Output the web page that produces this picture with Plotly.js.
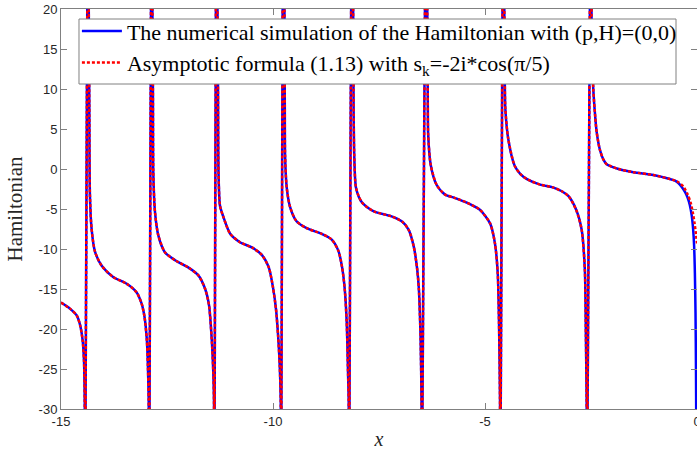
<!DOCTYPE html>
<html>
<head>
<meta charset="utf-8">
<script src="https://cdn.plot.ly/plotly-3.0.1.min.js"></script>
<style>html,body{margin:0;padding:0;background:#fff;}#chart{width:697px;height:450px;}</style>
</head>
<body>
<div id="chart"></div>
<script>
// Shared part of both curves, branch by branch between poles
const xCommon = [
  -15.0, -14.79, -14.63, -14.55, -14.49, -14.458, -14.441, -14.432,
  -14.36, -14.345, -14.332, -14.318, -14.28, -14.20, -14.04, -13.77, -13.45, -13.22, -13.10, -13.03, -12.975, -12.95, -12.932, -12.922,
  -12.86, -12.845, -12.832, -12.823, -12.783, -12.705, -12.55, -12.31, -12.0, -11.76, -11.60, -11.51, -11.446, -11.408, -11.392, -11.385,
  -11.33, -11.31, -11.297, -11.285, -11.25, -11.17, -11.01, -10.78, -10.50, -10.27, -10.10, -10.00, -9.93, -9.88, -9.84, -9.818, -9.81,
  -9.755, -9.73, -9.722, -9.715, -9.677, -9.60, -9.45, -9.205, -8.85, -8.62, -8.46, -8.37, -8.31, -8.262, -8.231, -8.215, -8.207,
  -8.135, -8.11, -8.098, -8.083, -8.04, -7.90, -7.62, -7.22, -6.95, -6.80, -6.68, -6.60, -6.56, -6.52, -6.497, -6.49,
  -6.385, -6.362, -6.35, -6.34, -6.28, -6.14, -5.94, -5.72, -5.43, -5.12, -4.88, -4.765, -4.70, -4.67, -4.646, -4.64,
  -4.565, -4.545, -4.535, -4.52, -4.45, -4.30, -4.17, -4.00, -3.70, -3.40, -3.20, -3.03, -2.85, -2.72, -2.645, -2.62, -2.603, -2.595,
  -2.50, -2.488, -2.484, -2.446, -2.40, -2.366, -2.29, -2.21, -2.13, -1.85, -1.50, -1.03, -0.64, -0.52
];
const hCommon = [
  -16.7, -17.45, -18.3, -19.5, -21.4, -23.9, -28.9, -40,
  40, 20, 8, -3.2, -7.4, -10.3, -12.1, -13.5, -14.35, -15.4, -16.8, -18.5, -21.4, -24.7, -28.9, -40,
  40, 20, 9.8, -0.4, -5.4, -8.3, -10.4, -11.4, -12.3, -13.3, -15.0, -17.0, -21.2, -25.4, -28.9, -40,
  40, 20, 9.8, -0.4, -4.6, -6.0, -8.1, -9.15, -9.8, -10.7, -12.3, -14.8, -17.5, -20.8, -24.7, -28.9, -40,
  40, 20, 8, 1.7, -2.3, -4.7, -6.5, -7.4, -8.1, -8.8, -10.2, -12.3, -14.9, -19.1, -25.4, -28.9, -40,
  40, 20, 7, 1.6, -2.4, -4.2, -5.3, -5.9, -6.6, -7.6, -9.7, -12.5, -15.0, -21.0, -28.9, -40,
  40, 20, 9, 4.3, 0.5, -2.0, -3.2, -3.6, -4.2, -5.1, -6.8, -9.3, -13.0, -19.1, -28.9, -40,
  40, 20, 12, 7.5, 3.7, 0.4, -0.6, -1.3, -1.95, -2.3, -2.75, -3.4, -5.1, -7.6, -12.6, -21.0, -28.9, -40,
  40, 20, 16.2, 10, 6.5, 4.6, 2.4, 1.2, 0.6, 0, -0.4, -0.75, -1.25, -1.45
];
// Tail of the numerical simulation (blue)
const xSimTail = [-0.44, -0.36, -0.28, -0.22, -0.17, -0.125, -0.09, -0.068, -0.05, -0.035, -0.024, -0.018, -0.012];
const hSimTail = [-1.75, -2.25, -2.9, -3.6, -4.5, -5.8, -7.6, -9.6, -13.0, -18, -25, -32, -40];
// Tail of the asymptotic formula (red dotted)
const xAsyTail = [-0.44, -0.32, -0.22, -0.15, -0.10, -0.06, -0.025, 0];
const hAsyTail = [-1.65, -2.2, -3.2, -4.2, -5.4, -6.7, -8.1, -9.3];

const xTicks = [-15, -10, -5, 0];
const xTickText = ['-15', '-10', '-5', '0'];
const yTicks = [-30, -25, -20, -15, -10, -5, 0, 5, 10, 15, 20];
const yTickText = ['-30', '-25', '-20', '-15', '-10', '-5', '0', '5', '10', '15', '20'];

const simName = 'The numerical simulation of the Hamiltonian with (p,H)=(0,0)';
const asyName = 'Asymptotic formula (1.13) with s<sub>k</sub>=-2i*cos(π/5)';

const traces = [
  {x: xCommon.concat(xSimTail), y: hCommon.concat(hSimTail), mode: 'lines', name: simName,
   line: {color: '#0000ff', width: 2.5, shape: 'spline', smoothing: 0.7}},
  {x: xCommon.concat(xAsyTail), y: hCommon.concat(hAsyTail), mode: 'lines', name: asyName,
   line: {color: '#ff0000', width: 2.5, dash: '3px,2px', shape: 'spline', smoothing: 0.7}}
];

const axisCommon = {
  showline: true, linecolor: '#808080', linewidth: 1, mirror: 'ticks',
  ticks: 'inside', ticklen: 6, tickcolor: '#808080', tickwidth: 1,
  showgrid: false, zeroline: false, ticklabeloverflow: 'allow',
  tickfont: {family: 'Liberation Sans, Arial, sans-serif', size: 13, color: '#262626'}
};

const serif = 'Liberation Serif, Times New Roman, serif';

const layout = {
  width: 697, height: 450,
  margin: {l: 61, r: 0, t: 9, b: 41},
  paper_bgcolor: '#fff', plot_bgcolor: '#fff',
  showlegend: true,
  xaxis: Object.assign({}, axisCommon, {
    range: [-15, 0], tickmode: 'array', tickvals: xTicks, ticktext: xTickText,
    title: {text: '<i>x</i>', font: {family: serif, size: 20, color: '#262626'}, standoff: 4}
  }),
  yaxis: Object.assign({}, axisCommon, {
    range: [-30, 20], tickmode: 'array', tickvals: yTicks, ticktext: yTickText,
    title: {text: 'Hamiltonian', font: {family: serif, size: 21, color: '#262626'}, standoff: 10}
  }),
  shapes: [{
    type: 'rect', xref: 'paper', yref: 'paper', layer: 'above',
    x0: 0.0283, x1: 0.967, y0: 0.8125, y1: 0.975,
    fillcolor: '#ffffff', line: {color: '#808080', width: 1}
  }],
  legend: {
    x: 0.025, y: 0.997, xanchor: 'left', yanchor: 'top',
    bgcolor: 'rgba(0,0,0,0)', borderwidth: 0,
    font: {family: serif, size: 22, color: '#000'},
    itemwidth: 40
  }
};

Plotly.newPlot('chart', traces, layout, {displayModeBar: false, staticPlot: true});
</script>
</body>
</html>
